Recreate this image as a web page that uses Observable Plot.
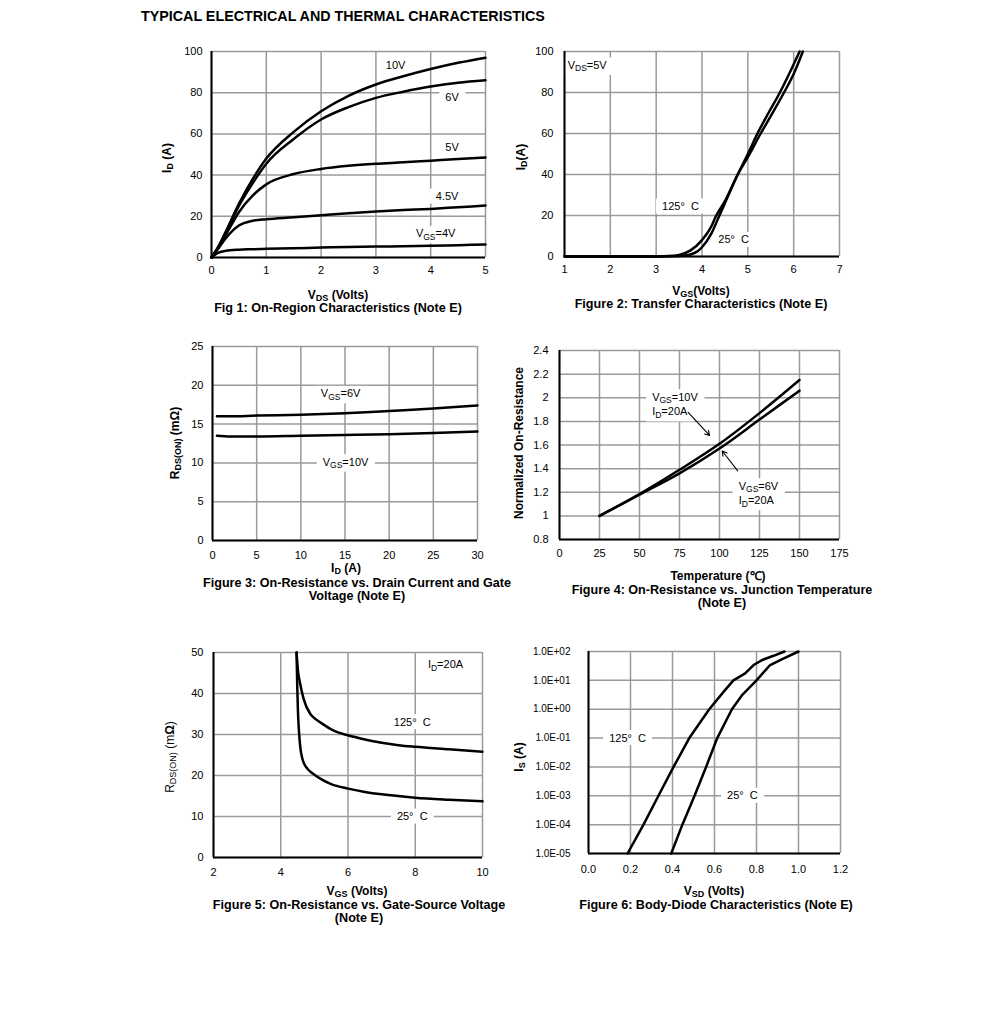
<!DOCTYPE html>
<html>
<head>
<meta charset="utf-8">
<script src="https://cdn.jsdelivr.net/npm/d3@7"></script>
<script src="https://cdn.jsdelivr.net/npm/@observablehq/plot@0.6"></script>
<style>
  body { margin: 0; background: #fff; font-family: "Liberation Sans", Arial, sans-serif; color: #000; }
  #page { position: relative; width: 991px; height: 1015px; overflow: hidden; }
  .t { position: absolute; white-space: nowrap; }
  .title { left: 141px; top: 8px; font-weight: bold; font-size: 14.3px; line-height: 16px; }
  .xl { font-weight: bold; font-size: 12px; line-height: 11px; transform: translate(-50%, -50%); }
  .yl { font-weight: bold; font-size: 12px; line-height: 12px; transform: translate(-50%, -50%) rotate(-90deg); }
  .cap { font-weight: bold; font-size: 12.6px; line-height: 12.5px; transform: translate(-50%, -50%); text-align: center; }
  sub { font-size: 0.75em; vertical-align: -0.25em; line-height: 0; }
</style>
</head>
<body>
<div id="page"></div>
<script>
// ================= DATA =================
// Fig 1: On-Region Characteristics
const f1_vds     = [0, 0.1, 0.25, 0.5, 0.75, 1, 1.5, 2, 2.5, 3, 3.5, 4, 4.5, 5];
const f1_id_10V  = [0, 4, 12, 26, 38, 48, 61, 71, 78.5, 84, 88, 91.5, 94.5, 97];
const f1_id_6V   = [0, 4, 11.5, 25, 36, 45.5, 57.5, 67, 73, 77.5, 80.5, 83, 84.8, 86];
const f1_id_5V   = [0, 4, 10.5, 22, 30, 35.5, 40.5, 43, 44.5, 45.5, 46.2, 47, 47.8, 48.5];
const f1_id_4_5V = [0, 3.5, 9, 15.5, 17.8, 18.6, 19.5, 20.5, 21.5, 22.3, 23, 23.6, 24.4, 25.2];
const f1_id_4V   = [0, 2, 3.2, 3.8, 4.0, 4.2, 4.5, 4.8, 5.1, 5.3, 5.5, 5.7, 6.0, 6.3];
const f1_xTicks  = [0, 1, 2, 3, 4, 5];
const f1_yTicks  = [0, 20, 40, 60, 80, 100];
const f1_labels  = ["10V", "6V", "5V", "4.5V", "V{GS}=4V"];
const f1_labelX  = [3.36, 4.39, 4.39, 4.30, 4.09];
const f1_labelY  = [93.2, 77.8, 53.2, 29.6, 11.5];

// Fig 2: Transfer Characteristics
const f2_vgs_125 = [1, 2, 3, 3.3, 3.5, 3.75, 4, 4.2, 4.3, 4.5, 4.78, 5, 5.28, 5.5, 5.79, 6, 6.2];
const f2_id_125  = [0, 0, 0, 0.2, 0.8, 3, 8, 14.5, 19.5, 27, 40, 48.5, 60, 68.5, 80, 89, 100];
const f2_vgs_25  = [1, 2, 3, 3.5, 3.75, 3.9, 4, 4.2, 4.38, 4.5, 4.78, 5, 5.21, 5.45, 5.7, 5.9, 6.13];
const f2_id_25   = [0, 0, 0, 0.2, 1, 2.5, 4.5, 11, 20, 26, 40, 50, 60, 70, 80, 89, 100];
const f2_xTicks  = [1, 2, 3, 4, 5, 6, 7];
const f2_yTicks  = [0, 20, 40, 60, 80, 100];
const f2_labels  = ["V{DS}=5V", "125°\u00a0 C", "25°\u00a0 C"];
const f2_labelX  = [1.495, 3.53, 4.69];
const f2_labelY  = [93.2, 24.4, 8.1];

// Fig 3: On-Resistance vs. Drain Current
const f3_id      = [0.5, 2, 5, 10, 15, 20, 25, 30];
const f3_r_6V    = [16.0, 16.0, 16.1, 16.2, 16.4, 16.7, 17.0, 17.4];
const f3_r_10V   = [13.5, 13.4, 13.4, 13.5, 13.6, 13.7, 13.85, 14.05];
const f3_xTicks  = [0, 5, 10, 15, 20, 25, 30];
const f3_yTicks  = [0, 5, 10, 15, 20, 25];
const f3_labels  = ["V{GS}=6V", "V{GS}=10V"];
const f3_labelX  = [14.5, 15.06];
const f3_labelY  = [18.9, 10.1];

// Fig 4: Normalized On-Resistance vs. Junction Temperature
const f4_temp    = [25, 50, 75, 100, 125, 150];
const f4_n_10V   = [1.0, 1.185, 1.39, 1.61, 1.87, 2.15];
const f4_n_6V    = [1.0, 1.18, 1.36, 1.57, 1.815, 2.06];
const f4_xTicks  = [0, 25, 50, 75, 100, 125, 150, 175];
const f4_yTicks  = [0.8, 1, 1.2, 1.4, 1.6, 1.8, 2, 2.2, 2.4];
const f4_labels  = ["V{GS}=10V", "I{D}=20A", "V{GS}=6V", "I{D}=20A"];
const f4_labelX  = [57.9, 57.9, 112, 112];
const f4_labelY  = [2.005, 1.88, 1.25, 1.128];
const f4_arrowX1 = [80.4, 111.4];
const f4_arrowY1 = [1.877, 1.381];
const f4_arrowX2 = [93.8, 101.7];
const f4_arrowY2 = [1.681, 1.549];

// Fig 5: On-Resistance vs. Gate-Source Voltage
const f5_vgs_125 = [4.47, 4.52, 4.57, 4.68, 4.88, 5.0, 5.17, 5.56, 6, 6.5, 7, 7.5, 8, 9, 10];
const f5_r_125   = [50, 45, 42.7, 38.7, 35, 34, 33, 31, 29.8, 28.8, 28, 27.4, 27, 26.4, 25.8];
const f5_vgs_25  = [4.47, 4.49, 4.51, 4.54, 4.58, 4.63, 4.7, 4.8, 4.9, 5.0, 5.2, 5.5, 6, 6.5, 7, 8, 9, 10];
const f5_r_25    = [50, 42, 36, 31, 27, 24.5, 22.8, 21.6, 20.8, 20.2, 19.1, 17.9, 16.8, 16.0, 15.4, 14.6, 14.1, 13.7];
const f5_xTicks  = [2, 4, 6, 8, 10];
const f5_yTicks  = [0, 10, 20, 30, 40, 50];
const f5_labels  = ["I{D}=20A", "125°\u00a0 C", "25°\u00a0 C"];
const f5_labelX  = [8.9, 7.91, 7.91];
const f5_labelY  = [47, 33, 10];

// Fig 6: Body-Diode Characteristics
const f6_vsd_125 = [0.186, 0.262, 0.333, 0.405, 0.48, 0.575, 0.643, 0.69, 0.746, 0.786, 0.833, 0.881, 0.933];
const f6_is_125  = [1e-5, 1e-4, 1e-3, 1e-2, 1e-1, 1, 4, 10, 17.5, 34, 53, 71, 100];
const f6_vsd_25  = [0.394, 0.447, 0.505, 0.56, 0.613, 0.683, 0.73, 0.8, 0.865, 0.92, 1.0];
const f6_is_25   = [1e-5, 1e-4, 1e-3, 1e-2, 1e-1, 1, 3, 10, 34, 53, 100];
const f6_xTicks  = [0, 0.2, 0.4, 0.6, 0.8, 1.0, 1.2];
const f6_yTicks  = [1e-5, 1e-4, 1e-3, 1e-2, 1e-1, 1, 10, 100];
const f6_labels  = ["125°\u00a0 C", "25°\u00a0 C"];
const f6_labelX  = [0.186, 0.733];
const f6_labelY  = [1e-1, 1e-3];

// ================= HELPERS =================
const page = document.getElementById("page");
const NS = "http://www.w3.org/2000/svg";
const zip = (xs, ys) => xs.map((x, i) => ({x, y: ys[i]}));
const labRows = (ts, xs, ys) => ts.map((t, i) => ({t, x: xs[i], y: ys[i]}));

function addDiv(cls, html, x, y) {
  const d = document.createElement("div");
  d.className = "t " + cls;
  d.innerHTML = html;
  if (x != null) { d.style.left = x + "px"; d.style.top = y + "px"; }
  page.appendChild(d);
}

function decorate(svg, labelSet, yTickFont) {
  const found = [];
  svg.querySelectorAll("text").forEach(t => {
    const s = t.textContent;
    if (!labelSet.has(s)) return;
    if (s.includes("{")) {
      while (t.firstChild) t.removeChild(t.firstChild);
      let shifted = false;
      s.split(/(\{[^}]*\})/).forEach(p => {
        if (!p) return;
        const ts = document.createElementNS(NS, "tspan");
        if (p.startsWith("{")) {
          ts.textContent = p.slice(1, -1);
          ts.setAttribute("font-size", "8.5");
          ts.setAttribute("dy", "2.5");
          shifted = true;
        } else {
          ts.textContent = p;
          if (shifted) { ts.setAttribute("dy", "-2.5"); shifted = false; }
        }
        t.appendChild(ts);
      });
    }
    found.push(t);
  });
  // white boxes behind all labels, placed before every text of the group
  found.map(t => [t, t.getBBox()]).forEach(([t, bb]) => {
    const r = document.createElementNS(NS, "rect");
    r.setAttribute("x", bb.x - 6);
    r.setAttribute("y", bb.y - 1.5);
    r.setAttribute("width", bb.width + 12);
    r.setAttribute("height", bb.height + 3);
    r.setAttribute("fill", "white");
    if (t.getAttribute("transform")) r.setAttribute("transform", t.getAttribute("transform"));
    t.parentNode.insertBefore(r, t.parentNode.firstChild);
  });
  if (yTickFont) {
    svg.querySelectorAll('g[aria-label^="y-axis"] text').forEach(t => t.setAttribute("font-size", yTickFont));
  }
}

function panel(o) {
  const ML = 60, MR = 15, MT = 12, MB = 30;
  const marks = [
    Plot.ruleX(o.xTicks, {stroke: "#9a9a9a", strokeWidth: 1.5}),
    Plot.ruleY(o.yTicks, {stroke: "#9a9a9a", strokeWidth: 1.5})
  ];
  const labelSet = new Set();
  for (const g of o.labels) {
    g.rows.forEach(r => labelSet.add(r.t));
    marks.push(Plot.text(g.rows, {x: "x", y: "y", text: "t", textAnchor: g.anchor || "middle", fontSize: 11, fill: "black"}));
  }
  for (const s of o.series) {
    marks.push(Plot.line(s, {x: "x", y: "y", stroke: "black", strokeWidth: 2.5, curve: o.curve || "monotone-x"}));
  }
  if (o.arrows) {
    marks.push(Plot.arrow(o.arrows, {x1: "x1", y1: "y1", x2: "x2", y2: "y2", stroke: "black", strokeWidth: 1.1, headLength: 7}));
  }
  marks.push(Plot.ruleX([o.xDomain[0]], {stroke: "black", strokeWidth: 2}));
  marks.push(Plot.ruleY([o.yDomain[0]], {stroke: "black", strokeWidth: 2}));
  const svg = Plot.plot({
    width: (o.R - o.L) + ML + MR,
    height: (o.B - o.T) + MT + MB,
    marginLeft: ML, marginRight: MR, marginTop: MT, marginBottom: MB,
    style: {background: "transparent", fontFamily: "'Liberation Sans', Arial, sans-serif", fontSize: "11px", color: "black", overflow: "visible"},
    x: {domain: o.xDomain, ticks: o.xTicks, tickSize: 0, tickPadding: o.xPad, tickFormat: o.xFmt, label: null},
    y: {type: o.yType || "linear", domain: o.yDomain, ticks: o.yTicks, tickSize: 0, tickPadding: o.yPad, tickFormat: o.yFmt, label: null},
    marks
  });
  svg.style.position = "absolute";
  svg.style.left = (o.L - ML) + "px";
  svg.style.top = (o.T - MT) + "px";
  page.appendChild(svg);
  decorate(svg, labelSet, o.yTickFont);
}

const num = d => String(+(+d).toFixed(2));
const sci = d => {
  const e = Math.round(Math.log10(d));
  return "1.0E" + (e < 0 ? "-" : "+") + String(Math.abs(e)).padStart(2, "0");
};

// ================= PANELS =================
panel({
  L: 211, R: 485, T: 51, B: 257, xDomain: [0, 5], yDomain: [0, 100],
  xTicks: f1_xTicks, yTicks: f1_yTicks, xPad: 9, yPad: 9, xFmt: num, yFmt: num,
  series: [zip(f1_vds, f1_id_10V), zip(f1_vds, f1_id_6V), zip(f1_vds, f1_id_5V), zip(f1_vds, f1_id_4_5V), zip(f1_vds, f1_id_4V)],
  labels: [{rows: labRows(f1_labels, f1_labelX, f1_labelY)}]
});
panel({
  L: 564, R: 839, T: 51, B: 256, xDomain: [1, 7], yDomain: [0, 100],
  xTicks: f2_xTicks, yTicks: f2_yTicks, xPad: 9, yPad: 11, xFmt: num, yFmt: num,
  series: [zip(f2_vgs_125, f2_id_125), zip(f2_vgs_25, f2_id_25)],
  labels: [{rows: labRows(f2_labels, f2_labelX, f2_labelY)}]
});
panel({
  L: 212, R: 477, T: 346, B: 540, xDomain: [0, 30], yDomain: [0, 25],
  xTicks: f3_xTicks, yTicks: f3_yTicks, xPad: 11, yPad: 9, xFmt: num, yFmt: num,
  series: [zip(f3_id, f3_r_6V), zip(f3_id, f3_r_10V)],
  labels: [{rows: labRows(f3_labels, f3_labelX, f3_labelY)}]
});
panel({
  L: 559, R: 839, T: 350, B: 539, xDomain: [0, 175], yDomain: [0.8, 2.4],
  xTicks: f4_xTicks, yTicks: f4_yTicks, xPad: 10, yPad: 11, xFmt: num, yFmt: num,
  series: [zip(f4_temp, f4_n_10V), zip(f4_temp, f4_n_6V)],
  labels: [{rows: labRows(f4_labels, f4_labelX, f4_labelY), anchor: "start"}],
  arrows: f4_arrowX1.map((x1, i) => ({x1, y1: f4_arrowY1[i], x2: f4_arrowX2[i], y2: f4_arrowY2[i]}))
});
panel({
  L: 213, R: 482, T: 652, B: 857, xDomain: [2, 10], yDomain: [0, 50],
  xTicks: f5_xTicks, yTicks: f5_yTicks, xPad: 11, yPad: 10, xFmt: num, yFmt: num,
  series: [zip(f5_vgs_125, f5_r_125), zip(f5_vgs_25, f5_r_25)],
  labels: [{rows: labRows(f5_labels, f5_labelX, f5_labelY)}]
});
panel({
  L: 588, R: 840, T: 651, B: 853, xDomain: [0, 1.2], yDomain: [1e-5, 100], yType: "log",
  xTicks: f6_xTicks, yTicks: f6_yTicks, xPad: 12, yPad: 18, xFmt: d3.format(".1f"), yFmt: sci,
  yTickFont: "10px", curve: "linear",
  series: [zip(f6_vsd_125, f6_is_125), zip(f6_vsd_25, f6_is_25)],
  labels: [{rows: labRows(f6_labels, f6_labelX, f6_labelY)}]
});

// ================= TEXT =================
addDiv("title", "TYPICAL ELECTRICAL AND THERMAL CHARACTERISTICS");

addDiv("yl", "I<sub>D</sub> (A)", 167, 158);
addDiv("xl", "V<sub>DS</sub> (Volts)", 338, 295);
addDiv("cap", "Fig 1: On-Region Characteristics (Note E)", 338, 308);

addDiv("yl", "I<sub>D</sub>(A)", 521, 157);
addDiv("xl", "V<sub>GS</sub>(Volts)", 701, 291);
addDiv("cap", "Figure 2: Transfer Characteristics (Note E)", 701, 304);

addDiv("yl", "R<sub>DS(ON)</sub> (mΩ)", 175, 443);
addDiv("xl", "I<sub>D</sub> (A)", 346, 568);
addDiv("cap", "Figure 3: On-Resistance vs. Drain Current and Gate<br>Voltage (Note E)", 357, 589);

addDiv("yl", "Normalized On-Resistance", 519, 443);
addDiv("xl", "Temperature (℃)", 718, 576);
addDiv("cap", "Figure 4: On-Resistance vs. Junction Temperature<br>(Note E)", 722, 596);

addDiv("yl", "<span style='font-weight:normal'>R<sub>DS(ON)</sub> (m</span>Ω<span style='font-weight:normal'>)</span>", 170, 757);
addDiv("xl", "V<sub>GS</sub> (Volts)", 357, 891);
addDiv("cap", "Figure 5: On-Resistance vs. Gate-Source Voltage<br>(Note E)", 359, 911);

addDiv("yl", "I<sub>S</sub> (A)", 519, 757);
addDiv("xl", "V<sub>SD</sub> (Volts)", 714, 891);
addDiv("cap", "Figure 6: Body-Diode Characteristics (Note E)", 716, 905);
</script>
</body>
</html>
